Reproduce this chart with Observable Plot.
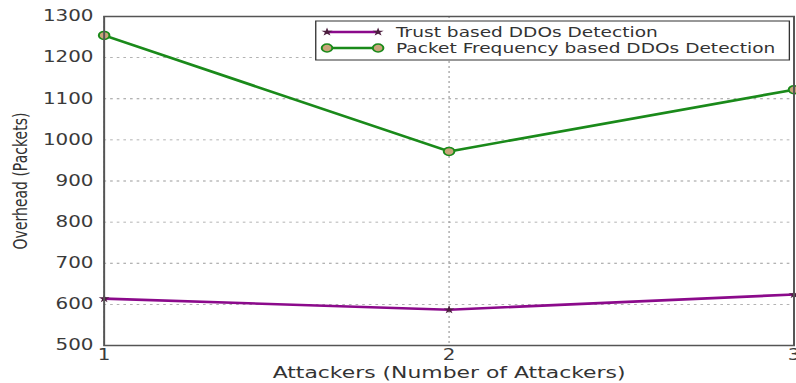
<!DOCTYPE html>
<html>
<head>
<meta charset="utf-8">
<script src="https://cdn.jsdelivr.net/npm/d3@7"></script>
<script src="https://cdn.jsdelivr.net/npm/@observablehq/plot@0.6"></script>
<style>
  html, body { margin: 0; padding: 0; background: #fff; }
  #chart svg { display: block; }
</style>
</head>
<body>
<div id="chart"></div>
<script>
// Number of attackers on the x axis
const attackers = [1, 2, 3];
// Overhead in packets for each detection scheme
const trustOverhead = [614, 587, 624];
const packetOverhead = [1254, 972, 1122];
const seriesNames = ["Trust based DDOs Detection", "Packet Frequency based DDOs Detection"];
const yTicks = [500, 600, 700, 800, 900, 1000, 1100, 1200, 1300];
const xTicks = [1, 2, 3];

const trustColor = "#8b0a8b";
const packetColor = "#1a8a1a";
const starFill = "#4d1f40";
const dotFill = "#c9a57a";

const trustData = attackers.map((a, i) => ({a, v: trustOverhead[i]}));
const packetData = attackers.map((a, i) => ({a, v: packetOverhead[i]}));

// The figure is laid out on a 600-wide canvas and stretched to the page width.
const innerW = 600, outerW = 796, H = 383;

const chart = Plot.plot({
  width: innerW,
  height: H,
  marginLeft: 78,
  marginRight: 2,
  marginTop: 16,
  marginBottom: 38,
  style: {fontFamily: "DejaVu Sans, sans-serif", fontSize: "15px", color: "#3a3a3a", background: "#fff", overflow: "visible"},
  x: {domain: [1, 3], label: null},
  y: {domain: [500, 1300], label: null},
  marks: [
    Plot.gridY(yTicks, {stroke: "#9a9a9a", strokeOpacity: 1, strokeWidth: 0.9, strokeDasharray: "2,3"}),
    Plot.gridX(xTicks, {stroke: "#9a9a9a", strokeOpacity: 1, strokeWidth: 0.9, strokeDasharray: "2,3"}),
    Plot.axisY(yTicks, {tickSize: 0, tickPadding: 8, fontSize: 15, fill: "#3a3a3a", label: null, tickFormat: d => String(d)}),
    Plot.axisX(xTicks, {tickSize: 0, tickPadding: 4, fontSize: 15, fill: "#3a3a3a", label: null, tickFormat: d => String(d)}),
    Plot.text(["Attackers (Number of Attackers)"], {frameAnchor: "bottom", dy: 27, textAnchor: "middle", lineAnchor: "middle", fontSize: 16.5, fill: "#333"}),
    Plot.text(["Overhead (Packets)"], {frameAnchor: "left", dx: -63, rotate: -90, textAnchor: "middle", lineAnchor: "middle", fontSize: 14, fill: "#333"}),
    Plot.line(packetData, {x: "a", y: "v", stroke: packetColor, strokeWidth: 2.6}),
    Plot.line(trustData, {x: "a", y: "v", stroke: trustColor, strokeWidth: 2.6}),
    Plot.dot(packetData, {x: "a", y: "v", r: 4, fill: dotFill, stroke: packetColor, strokeWidth: 1.5}),
    Plot.dot(trustData, {x: "a", y: "v", symbol: "star", r: 2.6, fill: starFill, stroke: "none"}),
    Plot.frame({stroke: "#555", strokeWidth: 1.5})
  ]
});

// Legend box in the upper right of the frame
const svg = d3.select(chart);
const lg = svg.append("g").attr("font-family", "DejaVu Sans, sans-serif").attr("font-size", 14)
  .attr("text-anchor", "start");
lg.append("rect").attr("x", 238).attr("y", 21).attr("width", 357).attr("height", 39)
  .attr("fill", "#fff").attr("stroke", "#333").attr("stroke-width", 1);
const rows = [
  {name: seriesNames[0], color: trustColor, y: 32, kind: "star"},
  {name: seriesNames[1], color: packetColor, y: 48, kind: "dot"}
];
const starPath = d3.symbol(d3.symbolStar, 22)();
rows.forEach(r => {
  lg.append("line").attr("x1", 246.5).attr("x2", 285).attr("y1", r.y).attr("y2", r.y)
    .attr("stroke", r.color).attr("stroke-width", 2.6);
  [246.5, 285].forEach(x => {
    if (r.kind === "star") {
      lg.append("path").attr("d", starPath).attr("transform", `translate(${x},${r.y})`)
        .attr("fill", starFill);
    } else {
      lg.append("circle").attr("cx", x).attr("cy", r.y).attr("r", 4)
        .attr("fill", dotFill).attr("stroke", packetColor).attr("stroke-width", 1.5);
    }
  });
  lg.append("text").attr("x", 298.5).attr("y", r.y).attr("dy", "0.35em")
    .attr("text-anchor", "start").attr("fill", "#333").text(r.name);
});

chart.setAttribute("width", outerW);
chart.setAttribute("height", H);
chart.setAttribute("viewBox", `0 0 ${innerW} ${H}`);
chart.setAttribute("preserveAspectRatio", "none");
chart.style.width = outerW + "px";
chart.style.height = H + "px";
chart.style.maxWidth = "none";
document.getElementById("chart").appendChild(chart);
</script>
</body>
</html>
